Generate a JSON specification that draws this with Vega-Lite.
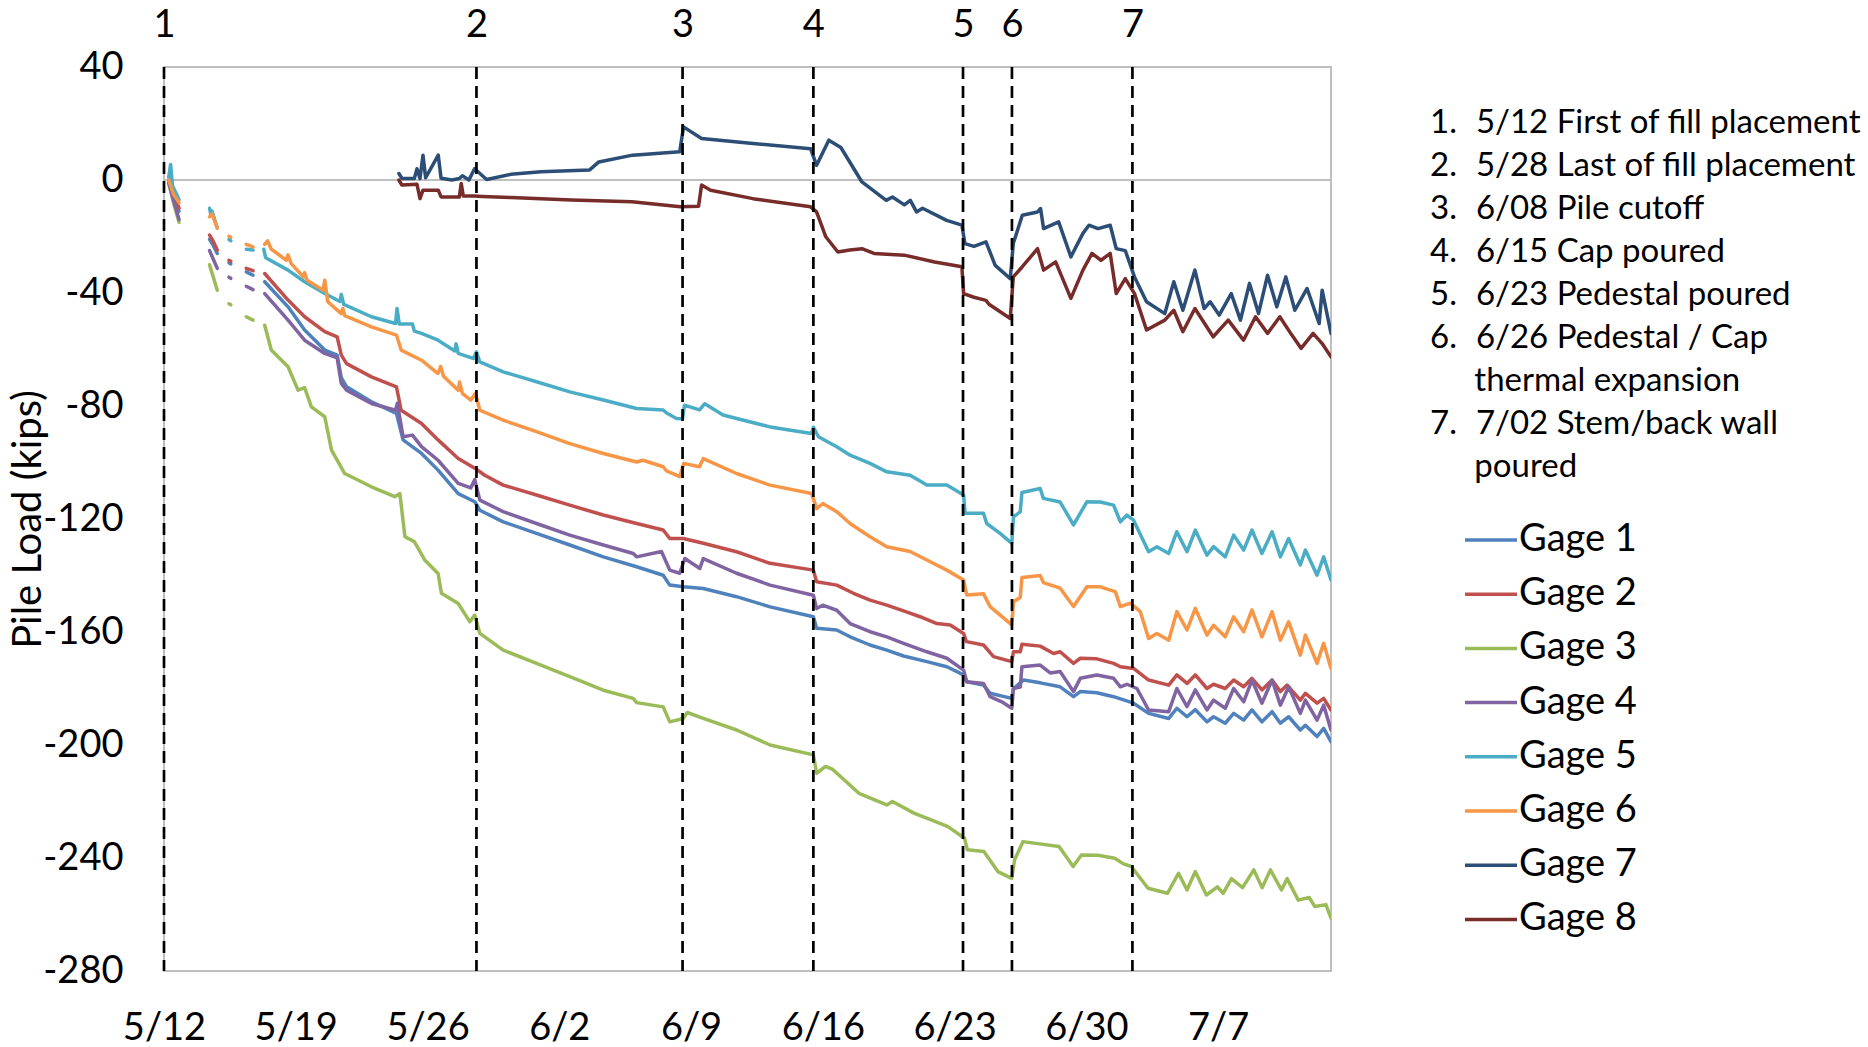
{
"$schema":"https://vega.github.io/schema/vega-lite/v6.json",
"width":1167,"height":904,
"autosize":{"type":"none"},
"padding":{"left":164,"top":67,"right":537,"bottom":76},
"background":"white",
"config":{"view":{"stroke":"#BFBFBF","strokeWidth":2},"font":"Lato"},
"datasets":{
"events":[{"day":0,"event":"1"},{"day":16.6,"event":"2"},{"day":27.55,"event":"3"},{"day":34.5,"event":"4"},{"day":42.45,"event":"5"},{"day":45.05,"event":"6"},{"day":51.45,"event":"7"}],
"gages":[
{"gage":"Gage 1","seg":"a","day":0.25,"load":0},{"gage":"Gage 1","seg":"a","day":0.5,"load":-6},{"gage":"Gage 1","seg":"a","day":0.8,"load":-11},
{"gage":"Gage 1","seg":"b","day":2.42,"load":-21},{"gage":"Gage 1","seg":"b","day":2.6,"load":-23},{"gage":"Gage 1","seg":"b","day":2.83,"load":-26},
{"gage":"Gage 1","seg":"c","day":3.45,"load":-29.3},{"gage":"Gage 1","seg":"c","day":3.55,"load":-29.7},
{"gage":"Gage 1","seg":"d","day":4.37,"load":-32.5},{"gage":"Gage 1","seg":"d","day":4.73,"load":-33.7},
{"gage":"Gage 1","seg":"e","day":5.35,"load":-36},{"gage":"Gage 1","seg":"e","day":6.59,"load":-44.9},{"gage":"Gage 1","seg":"e","day":7.47,"load":-53.1},{"gage":"Gage 1","seg":"e","day":8.54,"load":-60.2},{"gage":"Gage 1","seg":"e","day":9.2,"load":-62},{"gage":"Gage 1","seg":"e","day":9.42,"load":-70},{"gage":"Gage 1","seg":"e","day":9.7,"load":-73.2},{"gage":"Gage 1","seg":"e","day":11.02,"load":-78.5},{"gage":"Gage 1","seg":"e","day":12.35,"load":-82.6},{"gage":"Gage 1","seg":"e","day":12.7,"load":-92},{"gage":"Gage 1","seg":"e","day":13.68,"load":-96.8},{"gage":"Gage 1","seg":"e","day":14.56,"load":-102.7},{"gage":"Gage 1","seg":"e","day":15.63,"load":-111},{"gage":"Gage 1","seg":"e","day":16.51,"load":-113.9},{"gage":"Gage 1","seg":"e","day":16.78,"load":-116.9},{"gage":"Gage 1","seg":"e","day":18.02,"load":-121},{"gage":"Gage 1","seg":"e","day":19.79,"load":-125.1},{"gage":"Gage 1","seg":"e","day":21.56,"load":-129.2},{"gage":"Gage 1","seg":"e","day":23.34,"load":-133.4},{"gage":"Gage 1","seg":"e","day":25.11,"load":-136.9},{"gage":"Gage 1","seg":"e","day":26.52,"load":-139.9},{"gage":"Gage 1","seg":"e","day":26.87,"load":-143.4},{"gage":"Gage 1","seg":"e","day":27.59,"load":-144},{"gage":"Gage 1","seg":"e","day":28.65,"load":-144.6},{"gage":"Gage 1","seg":"e","day":30.42,"load":-147.5},{"gage":"Gage 1","seg":"e","day":32.2,"load":-151.1},{"gage":"Gage 1","seg":"e","day":34.5,"load":-154.6},{"gage":"Gage 1","seg":"e","day":34.67,"load":-158.7},{"gage":"Gage 1","seg":"e","day":35.74,"load":-159.3},{"gage":"Gage 1","seg":"e","day":36.45,"load":-161.7},{"gage":"Gage 1","seg":"e","day":37.51,"load":-164.6},{"gage":"Gage 1","seg":"e","day":38.4,"load":-166.4},{"gage":"Gage 1","seg":"e","day":39.29,"load":-168.5},{"gage":"Gage 1","seg":"e","day":40.53,"load":-170.5},{"gage":"Gage 1","seg":"e","day":41.59,"load":-172.3},{"gage":"Gage 1","seg":"e","day":42.48,"load":-175.2},{"gage":"Gage 1","seg":"e","day":42.65,"load":-177.6},{"gage":"Gage 1","seg":"e","day":43.54,"load":-178.8},{"gage":"Gage 1","seg":"e","day":43.89,"load":-181.7},{"gage":"Gage 1","seg":"e","day":45.04,"load":-183.5},{"gage":"Gage 1","seg":"e","day":45.13,"load":-180},{"gage":"Gage 1","seg":"e","day":45.67,"load":-177},{"gage":"Gage 1","seg":"e","day":46.55,"load":-178},{"gage":"Gage 1","seg":"e","day":47.61,"load":-179.4},{"gage":"Gage 1","seg":"e","day":48.32,"load":-182.9},{"gage":"Gage 1","seg":"e","day":48.68,"load":-181.1},{"gage":"Gage 1","seg":"e","day":49.56,"load":-181.5},{"gage":"Gage 1","seg":"e","day":50.45,"load":-182.9},{"gage":"Gage 1","seg":"e","day":51.51,"load":-185.2},{"gage":"Gage 1","seg":"e","day":52.31,"load":-188.8},{"gage":"Gage 1","seg":"e","day":53.38,"load":-190.6},{"gage":"Gage 1","seg":"e","day":53.81,"load":-187},{"gage":"Gage 1","seg":"e","day":54.35,"load":-190},{"gage":"Gage 1","seg":"e","day":54.79,"load":-187.5},{"gage":"Gage 1","seg":"e","day":55.41,"load":-191.8},{"gage":"Gage 1","seg":"e","day":55.76,"load":-190},{"gage":"Gage 1","seg":"e","day":56.38,"load":-192.3},{"gage":"Gage 1","seg":"e","day":56.83,"load":-188.8},{"gage":"Gage 1","seg":"e","day":57.36,"load":-191.2},{"gage":"Gage 1","seg":"e","day":57.8,"load":-187.6},{"gage":"Gage 1","seg":"e","day":58.33,"load":-191.8},{"gage":"Gage 1","seg":"e","day":58.87,"load":-188.2},{"gage":"Gage 1","seg":"e","day":59.31,"load":-192.3},{"gage":"Gage 1","seg":"e","day":59.75,"load":-190},{"gage":"Gage 1","seg":"e","day":60.37,"load":-194.7},{"gage":"Gage 1","seg":"e","day":60.64,"load":-193},{"gage":"Gage 1","seg":"e","day":61.26,"load":-197},{"gage":"Gage 1","seg":"e","day":61.61,"load":-194.1},{"gage":"Gage 1","seg":"e","day":62,"load":-198.8},

{"gage":"Gage 2","seg":"a","day":0.25,"load":0},{"gage":"Gage 2","seg":"a","day":0.5,"load":-5},{"gage":"Gage 2","seg":"a","day":0.8,"load":-10},
{"gage":"Gage 2","seg":"b","day":2.42,"load":-19.5},{"gage":"Gage 2","seg":"b","day":2.6,"load":-21.5},{"gage":"Gage 2","seg":"b","day":2.83,"load":-24.8},
{"gage":"Gage 2","seg":"c","day":3.45,"load":-28.4},{"gage":"Gage 2","seg":"c","day":3.55,"load":-28.8},
{"gage":"Gage 2","seg":"d","day":4.37,"load":-31.3},{"gage":"Gage 2","seg":"d","day":4.73,"load":-32.1},
{"gage":"Gage 2","seg":"e","day":5.35,"load":-33.1},{"gage":"Gage 2","seg":"e","day":6.59,"load":-42.5},{"gage":"Gage 2","seg":"e","day":7.47,"load":-48.4},{"gage":"Gage 2","seg":"e","day":8.54,"load":-53.7},{"gage":"Gage 2","seg":"e","day":9.2,"load":-55.5},{"gage":"Gage 2","seg":"e","day":9.42,"load":-62},{"gage":"Gage 2","seg":"e","day":9.7,"load":-65},{"gage":"Gage 2","seg":"e","day":11.02,"load":-69.7},{"gage":"Gage 2","seg":"e","day":12.35,"load":-73.2},{"gage":"Gage 2","seg":"e","day":12.6,"load":-81.5},{"gage":"Gage 2","seg":"e","day":13.68,"load":-86.2},{"gage":"Gage 2","seg":"e","day":14.56,"load":-92},{"gage":"Gage 2","seg":"e","day":15.63,"load":-98.6},{"gage":"Gage 2","seg":"e","day":16.51,"load":-102},{"gage":"Gage 2","seg":"e","day":17.04,"load":-104.5},{"gage":"Gage 2","seg":"e","day":18.02,"load":-108},{"gage":"Gage 2","seg":"e","day":19.79,"load":-111.5},{"gage":"Gage 2","seg":"e","day":21.56,"load":-115.1},{"gage":"Gage 2","seg":"e","day":23.34,"load":-118.6},{"gage":"Gage 2","seg":"e","day":25.11,"load":-121.6},{"gage":"Gage 2","seg":"e","day":26.52,"load":-123.9},{"gage":"Gage 2","seg":"e","day":26.87,"load":-126.9},{"gage":"Gage 2","seg":"e","day":27.59,"load":-126.9},{"gage":"Gage 2","seg":"e","day":28.65,"load":-128.6},{"gage":"Gage 2","seg":"e","day":30.42,"load":-131.6},{"gage":"Gage 2","seg":"e","day":32.2,"load":-135.7},{"gage":"Gage 2","seg":"e","day":34.5,"load":-138.1},{"gage":"Gage 2","seg":"e","day":34.67,"load":-142.2},{"gage":"Gage 2","seg":"e","day":35.74,"load":-143.4},{"gage":"Gage 2","seg":"e","day":36.63,"load":-146.3},{"gage":"Gage 2","seg":"e","day":37.51,"load":-148.7},{"gage":"Gage 2","seg":"e","day":38.4,"load":-150.5},{"gage":"Gage 2","seg":"e","day":39.29,"load":-152.5},{"gage":"Gage 2","seg":"e","day":40.17,"load":-154.6},{"gage":"Gage 2","seg":"e","day":41.06,"load":-157},{"gage":"Gage 2","seg":"e","day":41.77,"load":-157.5},{"gage":"Gage 2","seg":"e","day":42.48,"load":-160.5},{"gage":"Gage 2","seg":"e","day":42.63,"load":-163.4},{"gage":"Gage 2","seg":"e","day":43.54,"load":-164.6},{"gage":"Gage 2","seg":"e","day":44.07,"load":-168.7},{"gage":"Gage 2","seg":"e","day":45.04,"load":-170.5},{"gage":"Gage 2","seg":"e","day":45.13,"load":-167},{"gage":"Gage 2","seg":"e","day":45.49,"load":-167},{"gage":"Gage 2","seg":"e","day":45.58,"load":-164.3},{"gage":"Gage 2","seg":"e","day":46.55,"load":-165},{"gage":"Gage 2","seg":"e","day":47.26,"load":-167.6},{"gage":"Gage 2","seg":"e","day":47.61,"load":-167},{"gage":"Gage 2","seg":"e","day":48.32,"load":-171.1},{"gage":"Gage 2","seg":"e","day":48.68,"load":-169.3},{"gage":"Gage 2","seg":"e","day":49.56,"load":-169.5},{"gage":"Gage 2","seg":"e","day":50.45,"load":-171.1},{"gage":"Gage 2","seg":"e","day":50.81,"load":-172.3},{"gage":"Gage 2","seg":"e","day":51.51,"load":-172.9},{"gage":"Gage 2","seg":"e","day":52.31,"load":-177},{"gage":"Gage 2","seg":"e","day":53.38,"load":-178.8},{"gage":"Gage 2","seg":"e","day":53.81,"load":-175.2},{"gage":"Gage 2","seg":"e","day":54.35,"load":-178.2},{"gage":"Gage 2","seg":"e","day":54.79,"load":-175.2},{"gage":"Gage 2","seg":"e","day":55.41,"load":-180},{"gage":"Gage 2","seg":"e","day":55.76,"load":-178.5},{"gage":"Gage 2","seg":"e","day":56.38,"load":-180},{"gage":"Gage 2","seg":"e","day":56.83,"load":-177},{"gage":"Gage 2","seg":"e","day":57.36,"load":-179.4},{"gage":"Gage 2","seg":"e","day":57.8,"load":-176.4},{"gage":"Gage 2","seg":"e","day":58.33,"load":-180.5},{"gage":"Gage 2","seg":"e","day":58.87,"load":-177},{"gage":"Gage 2","seg":"e","day":59.31,"load":-181.1},{"gage":"Gage 2","seg":"e","day":59.67,"load":-178.8},{"gage":"Gage 2","seg":"e","day":60.37,"load":-184.1},{"gage":"Gage 2","seg":"e","day":60.64,"load":-181.7},{"gage":"Gage 2","seg":"e","day":61.26,"load":-185.2},{"gage":"Gage 2","seg":"e","day":61.61,"load":-183.5},{"gage":"Gage 2","seg":"e","day":62,"load":-187.6},

{"gage":"Gage 3","seg":"a","day":0.25,"load":-1},{"gage":"Gage 3","seg":"a","day":0.5,"load":-8},{"gage":"Gage 3","seg":"a","day":0.8,"load":-15},
{"gage":"Gage 3","seg":"b","day":2.42,"load":-30},{"gage":"Gage 3","seg":"b","day":2.6,"load":-34},{"gage":"Gage 3","seg":"b","day":2.83,"load":-39},
{"gage":"Gage 3","seg":"c","day":3.45,"load":-43.8},{"gage":"Gage 3","seg":"c","day":3.55,"load":-44.2},
{"gage":"Gage 3","seg":"d","day":4.37,"load":-48.4},{"gage":"Gage 3","seg":"d","day":4.73,"load":-49.6},
{"gage":"Gage 3","seg":"e","day":5.35,"load":-51.4},{"gage":"Gage 3","seg":"e","day":5.7,"load":-60.2},{"gage":"Gage 3","seg":"e","day":6.59,"load":-66.1},{"gage":"Gage 3","seg":"e","day":7.12,"load":-74.4},{"gage":"Gage 3","seg":"e","day":7.47,"load":-73.5},{"gage":"Gage 3","seg":"e","day":7.83,"load":-80.3},{"gage":"Gage 3","seg":"e","day":8.54,"load":-83.8},{"gage":"Gage 3","seg":"e","day":8.9,"load":-95.6},{"gage":"Gage 3","seg":"e","day":9.6,"load":-103.9},{"gage":"Gage 3","seg":"e","day":11.02,"load":-108.6},{"gage":"Gage 3","seg":"e","day":12.26,"load":-112.1},{"gage":"Gage 3","seg":"e","day":12.53,"load":-111},{"gage":"Gage 3","seg":"e","day":12.8,"load":-126.3},{"gage":"Gage 3","seg":"e","day":13.3,"load":-128},{"gage":"Gage 3","seg":"e","day":13.85,"load":-134.5},{"gage":"Gage 3","seg":"e","day":14.56,"load":-139.3},{"gage":"Gage 3","seg":"e","day":14.74,"load":-146.3},{"gage":"Gage 3","seg":"e","day":15.63,"load":-149.9},{"gage":"Gage 3","seg":"e","day":16.25,"load":-156.4},{"gage":"Gage 3","seg":"e","day":16.51,"load":-154},{"gage":"Gage 3","seg":"e","day":16.78,"load":-160.5},{"gage":"Gage 3","seg":"e","day":18.02,"load":-166.4},{"gage":"Gage 3","seg":"e","day":19.79,"load":-171.1},{"gage":"Gage 3","seg":"e","day":21.56,"load":-175.8},{"gage":"Gage 3","seg":"e","day":23.34,"load":-180.6},{"gage":"Gage 3","seg":"e","day":24.93,"load":-183.5},{"gage":"Gage 3","seg":"e","day":25.11,"load":-185},{"gage":"Gage 3","seg":"e","day":26.52,"load":-186.5},{"gage":"Gage 3","seg":"e","day":26.87,"load":-191.8},{"gage":"Gage 3","seg":"e","day":27.59,"load":-190.6},{"gage":"Gage 3","seg":"e","day":27.8,"load":-188.5},{"gage":"Gage 3","seg":"e","day":28.65,"load":-190.6},{"gage":"Gage 3","seg":"e","day":30.42,"load":-194.7},{"gage":"Gage 3","seg":"e","day":32.2,"load":-200},{"gage":"Gage 3","seg":"e","day":34.5,"load":-203.5},{"gage":"Gage 3","seg":"e","day":34.67,"load":-210},{"gage":"Gage 3","seg":"e","day":35.15,"load":-207.6},{"gage":"Gage 3","seg":"e","day":35.5,"load":-208.5},{"gage":"Gage 3","seg":"e","day":36.92,"load":-217.1},{"gage":"Gage 3","seg":"e","day":38.4,"load":-221.2},{"gage":"Gage 3","seg":"e","day":38.7,"load":-220},{"gage":"Gage 3","seg":"e","day":39.87,"load":-224.2},{"gage":"Gage 3","seg":"e","day":40.76,"load":-226.5},{"gage":"Gage 3","seg":"e","day":41.65,"load":-228.9},{"gage":"Gage 3","seg":"e","day":42.53,"load":-233},{"gage":"Gage 3","seg":"e","day":42.68,"load":-237.1},{"gage":"Gage 3","seg":"e","day":43.56,"load":-237.7},{"gage":"Gage 3","seg":"e","day":44.3,"load":-244.8},{"gage":"Gage 3","seg":"e","day":45.04,"load":-247.2},{"gage":"Gage 3","seg":"e","day":45.19,"load":-240.6},{"gage":"Gage 3","seg":"e","day":45.64,"load":-234.2},{"gage":"Gage 3","seg":"e","day":46.52,"load":-235},{"gage":"Gage 3","seg":"e","day":47.55,"load":-235.9},{"gage":"Gage 3","seg":"e","day":48.3,"load":-243},{"gage":"Gage 3","seg":"e","day":48.74,"load":-238.9},{"gage":"Gage 3","seg":"e","day":49.62,"load":-239},{"gage":"Gage 3","seg":"e","day":50.51,"load":-240.1},{"gage":"Gage 3","seg":"e","day":50.95,"load":-242},{"gage":"Gage 3","seg":"e","day":51.39,"load":-243},{"gage":"Gage 3","seg":"e","day":52.28,"load":-250.7},{"gage":"Gage 3","seg":"e","day":53.31,"load":-252.5},{"gage":"Gage 3","seg":"e","day":53.9,"load":-245.4},{"gage":"Gage 3","seg":"e","day":54.35,"load":-251.3},{"gage":"Gage 3","seg":"e","day":54.79,"load":-244.8},{"gage":"Gage 3","seg":"e","day":55.38,"load":-253.1},{"gage":"Gage 3","seg":"e","day":55.97,"load":-250.2},{"gage":"Gage 3","seg":"e","day":56.27,"load":-252.5},{"gage":"Gage 3","seg":"e","day":56.71,"load":-247.3},{"gage":"Gage 3","seg":"e","day":57.3,"load":-250.5},{"gage":"Gage 3","seg":"e","day":57.9,"load":-244.2},{"gage":"Gage 3","seg":"e","day":58.34,"load":-250.5},{"gage":"Gage 3","seg":"e","day":58.78,"load":-244.2},{"gage":"Gage 3","seg":"e","day":59.37,"load":-251.3},{"gage":"Gage 3","seg":"e","day":59.67,"load":-247.3},{"gage":"Gage 3","seg":"e","day":60.26,"load":-254.9},{"gage":"Gage 3","seg":"e","day":60.85,"load":-254},{"gage":"Gage 3","seg":"e","day":61.14,"load":-257.2},{"gage":"Gage 3","seg":"e","day":61.73,"load":-256.5},{"gage":"Gage 3","seg":"e","day":62,"load":-261.3},

{"gage":"Gage 4","seg":"a","day":0.25,"load":-1},{"gage":"Gage 4","seg":"a","day":0.5,"load":-7},{"gage":"Gage 4","seg":"a","day":0.8,"load":-14},
{"gage":"Gage 4","seg":"b","day":2.42,"load":-25},{"gage":"Gage 4","seg":"b","day":2.55,"load":-27},{"gage":"Gage 4","seg":"b","day":2.83,"load":-31.3},
{"gage":"Gage 4","seg":"c","day":3.45,"load":-34.4},{"gage":"Gage 4","seg":"c","day":3.55,"load":-34.8},
{"gage":"Gage 4","seg":"d","day":4.37,"load":-37.6},{"gage":"Gage 4","seg":"d","day":4.73,"load":-38.8},
{"gage":"Gage 4","seg":"e","day":5.35,"load":-40.2},{"gage":"Gage 4","seg":"e","day":6.59,"load":-49.6},{"gage":"Gage 4","seg":"e","day":7.47,"load":-56.7},{"gage":"Gage 4","seg":"e","day":8.54,"load":-61.4},{"gage":"Gage 4","seg":"e","day":9.2,"load":-63},{"gage":"Gage 4","seg":"e","day":9.42,"load":-72},{"gage":"Gage 4","seg":"e","day":9.7,"load":-74.4},{"gage":"Gage 4","seg":"e","day":11.02,"load":-79.1},{"gage":"Gage 4","seg":"e","day":12.3,"load":-81.5},{"gage":"Gage 4","seg":"e","day":12.4,"load":-79},{"gage":"Gage 4","seg":"e","day":12.7,"load":-90.9},{"gage":"Gage 4","seg":"e","day":13.2,"load":-90.3},{"gage":"Gage 4","seg":"e","day":13.68,"load":-94.4},{"gage":"Gage 4","seg":"e","day":14.56,"load":-99.2},{"gage":"Gage 4","seg":"e","day":15.63,"load":-107.4},{"gage":"Gage 4","seg":"e","day":16.3,"load":-109},{"gage":"Gage 4","seg":"e","day":16.51,"load":-106},{"gage":"Gage 4","seg":"e","day":16.6,"load":-108.6},{"gage":"Gage 4","seg":"e","day":16.78,"load":-113.3},{"gage":"Gage 4","seg":"e","day":18.02,"load":-117.4},{"gage":"Gage 4","seg":"e","day":19.79,"load":-121.6},{"gage":"Gage 4","seg":"e","day":21.56,"load":-125.7},{"gage":"Gage 4","seg":"e","day":23.34,"load":-129.2},{"gage":"Gage 4","seg":"e","day":24.93,"load":-132.2},{"gage":"Gage 4","seg":"e","day":25.11,"load":-133.4},{"gage":"Gage 4","seg":"e","day":26.43,"load":-131.5},{"gage":"Gage 4","seg":"e","day":26.87,"load":-138.1},{"gage":"Gage 4","seg":"e","day":27.4,"load":-139.2},{"gage":"Gage 4","seg":"e","day":27.67,"load":-134},{"gage":"Gage 4","seg":"e","day":28.47,"load":-137.5},{"gage":"Gage 4","seg":"e","day":28.65,"load":-134},{"gage":"Gage 4","seg":"e","day":30.42,"load":-139.2},{"gage":"Gage 4","seg":"e","day":32.2,"load":-143.4},{"gage":"Gage 4","seg":"e","day":34.5,"load":-147},{"gage":"Gage 4","seg":"e","day":34.67,"load":-151.7},{"gage":"Gage 4","seg":"e","day":35,"load":-150.5},{"gage":"Gage 4","seg":"e","day":35.74,"load":-152.3},{"gage":"Gage 4","seg":"e","day":36.45,"load":-157},{"gage":"Gage 4","seg":"e","day":37.51,"load":-159.9},{"gage":"Gage 4","seg":"e","day":38.4,"load":-161.7},{"gage":"Gage 4","seg":"e","day":39.29,"load":-164},{"gage":"Gage 4","seg":"e","day":40.53,"load":-167},{"gage":"Gage 4","seg":"e","day":41.59,"load":-169.3},{"gage":"Gage 4","seg":"e","day":42.48,"load":-173.5},{"gage":"Gage 4","seg":"e","day":42.65,"load":-177.6},{"gage":"Gage 4","seg":"e","day":43.54,"load":-178.2},{"gage":"Gage 4","seg":"e","day":43.89,"load":-182.9},{"gage":"Gage 4","seg":"e","day":44.51,"load":-184.7},{"gage":"Gage 4","seg":"e","day":45.04,"load":-187},{"gage":"Gage 4","seg":"e","day":45.13,"load":-180},{"gage":"Gage 4","seg":"e","day":45.49,"load":-179.5},{"gage":"Gage 4","seg":"e","day":45.58,"load":-172.3},{"gage":"Gage 4","seg":"e","day":46.55,"load":-171.7},{"gage":"Gage 4","seg":"e","day":47.08,"load":-174.5},{"gage":"Gage 4","seg":"e","day":47.61,"load":-174},{"gage":"Gage 4","seg":"e","day":48.32,"load":-181.1},{"gage":"Gage 4","seg":"e","day":48.68,"load":-176.4},{"gage":"Gage 4","seg":"e","day":49.56,"load":-175.2},{"gage":"Gage 4","seg":"e","day":50.45,"load":-176.4},{"gage":"Gage 4","seg":"e","day":50.81,"load":-179.4},{"gage":"Gage 4","seg":"e","day":51.16,"load":-178.5},{"gage":"Gage 4","seg":"e","day":51.69,"load":-180},{"gage":"Gage 4","seg":"e","day":52.31,"load":-187.6},{"gage":"Gage 4","seg":"e","day":53.38,"load":-188.2},{"gage":"Gage 4","seg":"e","day":53.81,"load":-180},{"gage":"Gage 4","seg":"e","day":54.35,"load":-186.4},{"gage":"Gage 4","seg":"e","day":54.79,"load":-180.5},{"gage":"Gage 4","seg":"e","day":55.41,"load":-187.6},{"gage":"Gage 4","seg":"e","day":55.76,"load":-184.1},{"gage":"Gage 4","seg":"e","day":56.38,"load":-187},{"gage":"Gage 4","seg":"e","day":56.83,"load":-180},{"gage":"Gage 4","seg":"e","day":57.36,"load":-184.7},{"gage":"Gage 4","seg":"e","day":57.8,"load":-177},{"gage":"Gage 4","seg":"e","day":58.33,"load":-185.2},{"gage":"Gage 4","seg":"e","day":58.87,"load":-177},{"gage":"Gage 4","seg":"e","day":59.31,"load":-185.9},{"gage":"Gage 4","seg":"e","day":59.75,"load":-179.4},{"gage":"Gage 4","seg":"e","day":60.37,"load":-188.8},{"gage":"Gage 4","seg":"e","day":60.64,"load":-184.1},{"gage":"Gage 4","seg":"e","day":61.26,"load":-191.2},{"gage":"Gage 4","seg":"e","day":61.61,"load":-185.9},{"gage":"Gage 4","seg":"e","day":62,"load":-194.7},

{"gage":"Gage 5","seg":"a","day":0.25,"load":1},{"gage":"Gage 5","seg":"a","day":0.35,"load":5.5},{"gage":"Gage 5","seg":"a","day":0.45,"load":-2},{"gage":"Gage 5","seg":"a","day":0.8,"load":-7},
{"gage":"Gage 5","seg":"b","day":2.42,"load":-10},{"gage":"Gage 5","seg":"b","day":2.5,"load":-12.5},{"gage":"Gage 5","seg":"b","day":2.55,"load":-11},{"gage":"Gage 5","seg":"b","day":2.83,"load":-17},
{"gage":"Gage 5","seg":"c","day":3.45,"load":-21.1},{"gage":"Gage 5","seg":"c","day":3.55,"load":-21.5},
{"gage":"Gage 5","seg":"d","day":4.37,"load":-24.5},{"gage":"Gage 5","seg":"d","day":4.73,"load":-24.8},
{"gage":"Gage 5","seg":"e","day":5.3,"load":-24.5},{"gage":"Gage 5","seg":"e","day":5.4,"load":-27.5},{"gage":"Gage 5","seg":"e","day":6.59,"load":-31.9},{"gage":"Gage 5","seg":"e","day":7.47,"load":-36},{"gage":"Gage 5","seg":"e","day":8.54,"load":-40.2},{"gage":"Gage 5","seg":"e","day":9.35,"load":-43},{"gage":"Gage 5","seg":"e","day":9.42,"load":-40.5},{"gage":"Gage 5","seg":"e","day":9.55,"load":-44},{"gage":"Gage 5","seg":"e","day":11.02,"load":-48.4},{"gage":"Gage 5","seg":"e","day":12.3,"load":-50.8},{"gage":"Gage 5","seg":"e","day":12.38,"load":-45.5},{"gage":"Gage 5","seg":"e","day":12.5,"load":-51},{"gage":"Gage 5","seg":"e","day":13.2,"load":-51},{"gage":"Gage 5","seg":"e","day":13.3,"load":-53.5},{"gage":"Gage 5","seg":"e","day":13.68,"load":-54.3},{"gage":"Gage 5","seg":"e","day":14.56,"load":-56.7},{"gage":"Gage 5","seg":"e","day":15.45,"load":-60.5},{"gage":"Gage 5","seg":"e","day":15.52,"load":-58},{"gage":"Gage 5","seg":"e","day":15.63,"load":-61.4},{"gage":"Gage 5","seg":"e","day":16.45,"load":-63.2},{"gage":"Gage 5","seg":"e","day":16.6,"load":-60.8},{"gage":"Gage 5","seg":"e","day":16.78,"load":-64.4},{"gage":"Gage 5","seg":"e","day":18.02,"load":-67.9},{"gage":"Gage 5","seg":"e","day":19.79,"load":-71.4},{"gage":"Gage 5","seg":"e","day":21.56,"load":-75},{"gage":"Gage 5","seg":"e","day":23.34,"load":-77.9},{"gage":"Gage 5","seg":"e","day":25.11,"load":-80.9},{"gage":"Gage 5","seg":"e","day":26.52,"load":-81.4},{"gage":"Gage 5","seg":"e","day":26.7,"load":-82.5},{"gage":"Gage 5","seg":"e","day":27.23,"load":-84.4},{"gage":"Gage 5","seg":"e","day":27.55,"load":-84.5},{"gage":"Gage 5","seg":"e","day":27.65,"load":-79.7},{"gage":"Gage 5","seg":"e","day":28.45,"load":-81.4},{"gage":"Gage 5","seg":"e","day":28.73,"load":-79.2},{"gage":"Gage 5","seg":"e","day":29.7,"load":-83.2},{"gage":"Gage 5","seg":"e","day":30.42,"load":-84.4},{"gage":"Gage 5","seg":"e","day":32.2,"load":-87.4},{"gage":"Gage 5","seg":"e","day":34.4,"load":-89.7},{"gage":"Gage 5","seg":"e","day":34.5,"load":-87.5},{"gage":"Gage 5","seg":"e","day":34.77,"load":-90.9},{"gage":"Gage 5","seg":"e","day":35.74,"load":-94.4},{"gage":"Gage 5","seg":"e","day":36.45,"load":-97.4},{"gage":"Gage 5","seg":"e","day":37.51,"load":-100.3},{"gage":"Gage 5","seg":"e","day":38.4,"load":-103.3},{"gage":"Gage 5","seg":"e","day":39.64,"load":-104.5},{"gage":"Gage 5","seg":"e","day":40.53,"load":-108},{"gage":"Gage 5","seg":"e","day":41.59,"load":-108},{"gage":"Gage 5","seg":"e","day":42.48,"load":-111.5},{"gage":"Gage 5","seg":"e","day":42.56,"load":-118},{"gage":"Gage 5","seg":"e","day":43.54,"load":-118},{"gage":"Gage 5","seg":"e","day":43.71,"load":-121.6},{"gage":"Gage 5","seg":"e","day":44.42,"load":-125.1},{"gage":"Gage 5","seg":"e","day":45.04,"load":-128.6},{"gage":"Gage 5","seg":"e","day":45.13,"load":-119.2},{"gage":"Gage 5","seg":"e","day":45.49,"load":-117.5},{"gage":"Gage 5","seg":"e","day":45.58,"load":-110.6},{"gage":"Gage 5","seg":"e","day":46.55,"load":-109.2},{"gage":"Gage 5","seg":"e","day":46.72,"load":-112.7},{"gage":"Gage 5","seg":"e","day":47.61,"load":-114},{"gage":"Gage 5","seg":"e","day":48.32,"load":-122.1},{"gage":"Gage 5","seg":"e","day":49.03,"load":-113.9},{"gage":"Gage 5","seg":"e","day":49.74,"load":-114},{"gage":"Gage 5","seg":"e","day":50.45,"load":-115.1},{"gage":"Gage 5","seg":"e","day":50.81,"load":-121},{"gage":"Gage 5","seg":"e","day":51.16,"load":-118.6},{"gage":"Gage 5","seg":"e","day":51.51,"load":-120.4},{"gage":"Gage 5","seg":"e","day":52.31,"load":-131.6},{"gage":"Gage 5","seg":"e","day":52.75,"load":-129.8},{"gage":"Gage 5","seg":"e","day":53.38,"load":-132.2},{"gage":"Gage 5","seg":"e","day":53.81,"load":-124.5},{"gage":"Gage 5","seg":"e","day":54.35,"load":-131.6},{"gage":"Gage 5","seg":"e","day":54.79,"load":-123.9},{"gage":"Gage 5","seg":"e","day":55.41,"load":-132.8},{"gage":"Gage 5","seg":"e","day":55.76,"load":-129.8},{"gage":"Gage 5","seg":"e","day":56.38,"load":-133.4},{"gage":"Gage 5","seg":"e","day":56.83,"load":-125.7},{"gage":"Gage 5","seg":"e","day":57.36,"load":-131},{"gage":"Gage 5","seg":"e","day":57.8,"load":-123.9},{"gage":"Gage 5","seg":"e","day":58.33,"load":-132.2},{"gage":"Gage 5","seg":"e","day":58.87,"load":-124.5},{"gage":"Gage 5","seg":"e","day":59.31,"load":-133.4},{"gage":"Gage 5","seg":"e","day":59.75,"load":-126.9},{"gage":"Gage 5","seg":"e","day":60.37,"load":-136.3},{"gage":"Gage 5","seg":"e","day":60.64,"load":-131},{"gage":"Gage 5","seg":"e","day":61.26,"load":-139.9},{"gage":"Gage 5","seg":"e","day":61.61,"load":-133.4},{"gage":"Gage 5","seg":"e","day":62,"load":-141.6},

{"gage":"Gage 6","seg":"a","day":0.25,"load":0},{"gage":"Gage 6","seg":"a","day":0.5,"load":-5},{"gage":"Gage 6","seg":"a","day":0.8,"load":-8},
{"gage":"Gage 6","seg":"b","day":2.42,"load":-13},{"gage":"Gage 6","seg":"b","day":2.55,"load":-12},{"gage":"Gage 6","seg":"b","day":2.83,"load":-17},
{"gage":"Gage 6","seg":"c","day":3.45,"load":-19.9},{"gage":"Gage 6","seg":"c","day":3.55,"load":-20.3},
{"gage":"Gage 6","seg":"d","day":4.37,"load":-22.8},{"gage":"Gage 6","seg":"d","day":4.73,"load":-23.7},
{"gage":"Gage 6","seg":"e","day":5.35,"load":-22.8},{"gage":"Gage 6","seg":"e","day":5.5,"load":-21.5},{"gage":"Gage 6","seg":"e","day":5.7,"load":-24.5},{"gage":"Gage 6","seg":"e","day":6.5,"load":-28.4},{"gage":"Gage 6","seg":"e","day":6.59,"load":-26.5},{"gage":"Gage 6","seg":"e","day":6.75,"load":-29.5},{"gage":"Gage 6","seg":"e","day":7.4,"load":-34.3},{"gage":"Gage 6","seg":"e","day":7.47,"load":-32.8},{"gage":"Gage 6","seg":"e","day":7.6,"load":-35.5},{"gage":"Gage 6","seg":"e","day":8.45,"load":-39},{"gage":"Gage 6","seg":"e","day":8.54,"load":-35.5},{"gage":"Gage 6","seg":"e","day":8.7,"load":-43.1},{"gage":"Gage 6","seg":"e","day":9.42,"load":-47.3},{"gage":"Gage 6","seg":"e","day":9.5,"load":-45.5},{"gage":"Gage 6","seg":"e","day":9.6,"load":-48},{"gage":"Gage 6","seg":"e","day":11.02,"load":-52},{"gage":"Gage 6","seg":"e","day":12.35,"load":-54.9},{"gage":"Gage 6","seg":"e","day":12.6,"load":-60.2},{"gage":"Gage 6","seg":"e","day":13.68,"load":-63.8},{"gage":"Gage 6","seg":"e","day":14.56,"load":-68.5},{"gage":"Gage 6","seg":"e","day":14.7,"load":-66},{"gage":"Gage 6","seg":"e","day":14.85,"load":-69.5},{"gage":"Gage 6","seg":"e","day":15.63,"load":-74.4},{"gage":"Gage 6","seg":"e","day":15.7,"load":-71.5},{"gage":"Gage 6","seg":"e","day":15.85,"load":-75.5},{"gage":"Gage 6","seg":"e","day":16.3,"load":-77.9},{"gage":"Gage 6","seg":"e","day":16.55,"load":-75.5},{"gage":"Gage 6","seg":"e","day":16.78,"load":-81.5},{"gage":"Gage 6","seg":"e","day":18.02,"load":-85},{"gage":"Gage 6","seg":"e","day":19.79,"load":-89.1},{"gage":"Gage 6","seg":"e","day":21.56,"load":-93.3},{"gage":"Gage 6","seg":"e","day":23.34,"load":-96.8},{"gage":"Gage 6","seg":"e","day":25.11,"load":-99.8},{"gage":"Gage 6","seg":"e","day":25.45,"load":-99.2},{"gage":"Gage 6","seg":"e","day":26.52,"load":-101.5},{"gage":"Gage 6","seg":"e","day":26.7,"load":-103},{"gage":"Gage 6","seg":"e","day":27.4,"load":-105},{"gage":"Gage 6","seg":"e","day":27.62,"load":-100.3},{"gage":"Gage 6","seg":"e","day":28.45,"load":-101.5},{"gage":"Gage 6","seg":"e","day":28.65,"load":-98.6},{"gage":"Gage 6","seg":"e","day":30.42,"load":-103.9},{"gage":"Gage 6","seg":"e","day":32.2,"load":-108},{"gage":"Gage 6","seg":"e","day":34.4,"load":-111},{"gage":"Gage 6","seg":"e","day":34.68,"load":-116.3},{"gage":"Gage 6","seg":"e","day":35,"load":-114.5},{"gage":"Gage 6","seg":"e","day":35.74,"load":-117.4},{"gage":"Gage 6","seg":"e","day":36.45,"load":-121.6},{"gage":"Gage 6","seg":"e","day":37.51,"load":-126.3},{"gage":"Gage 6","seg":"e","day":38.4,"load":-129.8},{"gage":"Gage 6","seg":"e","day":39.64,"load":-131.5},{"gage":"Gage 6","seg":"e","day":40.53,"load":-134.5},{"gage":"Gage 6","seg":"e","day":41.59,"load":-138.1},{"gage":"Gage 6","seg":"e","day":42.48,"load":-141.6},{"gage":"Gage 6","seg":"e","day":42.65,"load":-146.9},{"gage":"Gage 6","seg":"e","day":43.54,"load":-146.5},{"gage":"Gage 6","seg":"e","day":43.89,"load":-151},{"gage":"Gage 6","seg":"e","day":45.04,"load":-157.5},{"gage":"Gage 6","seg":"e","day":45.13,"load":-149.3},{"gage":"Gage 6","seg":"e","day":45.49,"load":-147.8},{"gage":"Gage 6","seg":"e","day":45.58,"load":-140.7},{"gage":"Gage 6","seg":"e","day":46.55,"load":-140},{"gage":"Gage 6","seg":"e","day":46.72,"load":-142.5},{"gage":"Gage 6","seg":"e","day":47.61,"load":-144.5},{"gage":"Gage 6","seg":"e","day":48.32,"load":-151},{"gage":"Gage 6","seg":"e","day":49.03,"load":-144},{"gage":"Gage 6","seg":"e","day":49.74,"load":-144},{"gage":"Gage 6","seg":"e","day":50.54,"load":-145.7},{"gage":"Gage 6","seg":"e","day":50.81,"load":-151},{"gage":"Gage 6","seg":"e","day":51.34,"load":-149.8},{"gage":"Gage 6","seg":"e","day":51.87,"load":-152.8},{"gage":"Gage 6","seg":"e","day":52.31,"load":-162.3},{"gage":"Gage 6","seg":"e","day":52.75,"load":-160.5},{"gage":"Gage 6","seg":"e","day":53.38,"load":-162.9},{"gage":"Gage 6","seg":"e","day":53.81,"load":-152.8},{"gage":"Gage 6","seg":"e","day":54.35,"load":-159.3},{"gage":"Gage 6","seg":"e","day":54.79,"load":-151.6},{"gage":"Gage 6","seg":"e","day":55.41,"load":-161.1},{"gage":"Gage 6","seg":"e","day":55.76,"load":-157.6},{"gage":"Gage 6","seg":"e","day":56.38,"load":-161.7},{"gage":"Gage 6","seg":"e","day":56.83,"load":-154.6},{"gage":"Gage 6","seg":"e","day":57.36,"load":-159.9},{"gage":"Gage 6","seg":"e","day":57.8,"load":-152.2},{"gage":"Gage 6","seg":"e","day":58.33,"load":-161.7},{"gage":"Gage 6","seg":"e","day":58.87,"load":-152.8},{"gage":"Gage 6","seg":"e","day":59.31,"load":-162.9},{"gage":"Gage 6","seg":"e","day":59.75,"load":-156.4},{"gage":"Gage 6","seg":"e","day":60.37,"load":-168.2},{"gage":"Gage 6","seg":"e","day":60.64,"load":-161.1},{"gage":"Gage 6","seg":"e","day":61.26,"load":-171.1},{"gage":"Gage 6","seg":"e","day":61.61,"load":-164},{"gage":"Gage 6","seg":"e","day":62,"load":-172.9},

{"gage":"Gage 7","seg":"e","day":12.48,"load":2.3},{"gage":"Gage 7","seg":"e","day":12.65,"load":0.5},{"gage":"Gage 7","seg":"e","day":13.3,"load":0.5},{"gage":"Gage 7","seg":"e","day":13.44,"load":4},{"gage":"Gage 7","seg":"e","day":13.6,"load":0.5},{"gage":"Gage 7","seg":"e","day":13.76,"load":8.8},{"gage":"Gage 7","seg":"e","day":13.9,"load":0.8},{"gage":"Gage 7","seg":"e","day":14.57,"load":8.8},{"gage":"Gage 7","seg":"e","day":14.72,"load":0.6},{"gage":"Gage 7","seg":"e","day":15.3,"load":0},{"gage":"Gage 7","seg":"e","day":15.69,"load":0.5},{"gage":"Gage 7","seg":"e","day":15.85,"load":1.5},{"gage":"Gage 7","seg":"e","day":16.2,"load":0},{"gage":"Gage 7","seg":"e","day":16.5,"load":4},{"gage":"Gage 7","seg":"e","day":17.14,"load":0.2},{"gage":"Gage 7","seg":"e","day":18.43,"load":2},{"gage":"Gage 7","seg":"e","day":20.03,"load":2.9},{"gage":"Gage 7","seg":"e","day":22.6,"load":3.5},{"gage":"Gage 7","seg":"e","day":23.1,"load":6.4},{"gage":"Gage 7","seg":"e","day":24.9,"load":8.8},{"gage":"Gage 7","seg":"e","day":27.4,"load":10},{"gage":"Gage 7","seg":"e","day":27.6,"load":18.8},{"gage":"Gage 7","seg":"e","day":28.56,"load":14.7},{"gage":"Gage 7","seg":"e","day":31.29,"load":12.9},{"gage":"Gage 7","seg":"e","day":34.35,"load":11.1},{"gage":"Gage 7","seg":"e","day":34.67,"load":5.2},{"gage":"Gage 7","seg":"e","day":35.32,"load":14.1},{"gage":"Gage 7","seg":"e","day":35.96,"load":11.5},{"gage":"Gage 7","seg":"e","day":37.08,"load":-0.7},{"gage":"Gage 7","seg":"e","day":38.37,"load":-7.2},{"gage":"Gage 7","seg":"e","day":38.7,"load":-6},{"gage":"Gage 7","seg":"e","day":39.33,"load":-8.8},{"gage":"Gage 7","seg":"e","day":39.65,"load":-7.2},{"gage":"Gage 7","seg":"e","day":39.98,"load":-11.3},{"gage":"Gage 7","seg":"e","day":40.3,"load":-10},{"gage":"Gage 7","seg":"e","day":41.58,"load":-14.3},{"gage":"Gage 7","seg":"e","day":42.39,"load":-16},{"gage":"Gage 7","seg":"e","day":42.55,"load":-22.5},{"gage":"Gage 7","seg":"e","day":43.03,"load":-23.5},{"gage":"Gage 7","seg":"e","day":43.67,"load":-21.9},{"gage":"Gage 7","seg":"e","day":44.16,"load":-30.2},{"gage":"Gage 7","seg":"e","day":44.96,"load":-34.9},{"gage":"Gage 7","seg":"e","day":45.12,"load":-22.5},{"gage":"Gage 7","seg":"e","day":45.6,"load":-12.5},{"gage":"Gage 7","seg":"e","day":46.41,"load":-11.3},{"gage":"Gage 7","seg":"e","day":46.57,"load":-10.1},{"gage":"Gage 7","seg":"e","day":46.73,"load":-17.2},{"gage":"Gage 7","seg":"e","day":47.53,"load":-14.8},{"gage":"Gage 7","seg":"e","day":48.18,"load":-27.2},{"gage":"Gage 7","seg":"e","day":48.82,"load":-18.9},{"gage":"Gage 7","seg":"e","day":49.14,"load":-16},{"gage":"Gage 7","seg":"e","day":49.62,"load":-17.2},{"gage":"Gage 7","seg":"e","day":50.27,"load":-16},{"gage":"Gage 7","seg":"e","day":50.59,"load":-24.3},{"gage":"Gage 7","seg":"e","day":51.07,"load":-25},{"gage":"Gage 7","seg":"e","day":51.56,"load":-34.3},{"gage":"Gage 7","seg":"e","day":52.2,"load":-43.1},{"gage":"Gage 7","seg":"e","day":53.17,"load":-47.3},{"gage":"Gage 7","seg":"e","day":53.65,"load":-36},{"gage":"Gage 7","seg":"e","day":54.13,"load":-46.1},{"gage":"Gage 7","seg":"e","day":54.77,"load":-31.9},{"gage":"Gage 7","seg":"e","day":55.26,"load":-45.5},{"gage":"Gage 7","seg":"e","day":55.58,"load":-43.1},{"gage":"Gage 7","seg":"e","day":56.06,"load":-47.8},{"gage":"Gage 7","seg":"e","day":56.7,"load":-40.2},{"gage":"Gage 7","seg":"e","day":57.19,"load":-49.6},{"gage":"Gage 7","seg":"e","day":57.67,"load":-36.6},{"gage":"Gage 7","seg":"e","day":58.15,"load":-47.3},{"gage":"Gage 7","seg":"e","day":58.63,"load":-33.7},{"gage":"Gage 7","seg":"e","day":59.12,"load":-44.9},{"gage":"Gage 7","seg":"e","day":59.6,"load":-34.3},{"gage":"Gage 7","seg":"e","day":60.08,"load":-46.1},{"gage":"Gage 7","seg":"e","day":60.73,"load":-38.4},{"gage":"Gage 7","seg":"e","day":61.37,"load":-50.8},{"gage":"Gage 7","seg":"e","day":61.53,"load":-39},{"gage":"Gage 7","seg":"e","day":62,"load":-54.3},

{"gage":"Gage 8","seg":"e","day":12.48,"load":0},{"gage":"Gage 8","seg":"e","day":12.64,"load":-1.8},{"gage":"Gage 8","seg":"e","day":13.44,"load":-1.5},{"gage":"Gage 8","seg":"e","day":13.6,"load":-6.6},{"gage":"Gage 8","seg":"e","day":13.76,"load":-3.6},{"gage":"Gage 8","seg":"e","day":14.57,"load":-3.6},{"gage":"Gage 8","seg":"e","day":14.72,"load":-6},{"gage":"Gage 8","seg":"e","day":15.69,"load":-6},{"gage":"Gage 8","seg":"e","day":15.79,"load":-1.2},{"gage":"Gage 8","seg":"e","day":15.9,"load":-5.7},{"gage":"Gage 8","seg":"e","day":16.5,"load":-5.7},{"gage":"Gage 8","seg":"e","day":16.9,"load":-5.8},{"gage":"Gage 8","seg":"e","day":18.43,"load":-6.2},{"gage":"Gage 8","seg":"e","day":21.64,"load":-7.1},{"gage":"Gage 8","seg":"e","day":24.86,"load":-7.7},{"gage":"Gage 8","seg":"e","day":27.43,"load":-9.5},{"gage":"Gage 8","seg":"e","day":28.4,"load":-9.3},{"gage":"Gage 8","seg":"e","day":28.56,"load":-1.8},{"gage":"Gage 8","seg":"e","day":29.04,"load":-3.6},{"gage":"Gage 8","seg":"e","day":31.29,"load":-6.6},{"gage":"Gage 8","seg":"e","day":34.35,"load":-9.5},{"gage":"Gage 8","seg":"e","day":34.67,"load":-11.3},{"gage":"Gage 8","seg":"e","day":35.16,"load":-20.1},{"gage":"Gage 8","seg":"e","day":35.8,"load":-25.5},{"gage":"Gage 8","seg":"e","day":36.44,"load":-24.8},{"gage":"Gage 8","seg":"e","day":37.08,"load":-24.3},{"gage":"Gage 8","seg":"e","day":37.72,"load":-26},{"gage":"Gage 8","seg":"e","day":39.33,"load":-26.6},{"gage":"Gage 8","seg":"e","day":40.94,"load":-29},{"gage":"Gage 8","seg":"e","day":42.39,"load":-30.7},{"gage":"Gage 8","seg":"e","day":42.48,"load":-40.2},{"gage":"Gage 8","seg":"e","day":43.03,"load":-41.5},{"gage":"Gage 8","seg":"e","day":43.67,"load":-42.6},{"gage":"Gage 8","seg":"e","day":43.83,"load":-44},{"gage":"Gage 8","seg":"e","day":44.96,"load":-49},{"gage":"Gage 8","seg":"e","day":45.12,"load":-34.3},{"gage":"Gage 8","seg":"e","day":45.6,"load":-30.7},{"gage":"Gage 8","seg":"e","day":46.41,"load":-24.3},{"gage":"Gage 8","seg":"e","day":46.73,"load":-31.9},{"gage":"Gage 8","seg":"e","day":47.37,"load":-29},{"gage":"Gage 8","seg":"e","day":48.18,"load":-41.9},{"gage":"Gage 8","seg":"e","day":48.82,"load":-31.9},{"gage":"Gage 8","seg":"e","day":49.3,"load":-26},{"gage":"Gage 8","seg":"e","day":49.78,"load":-28.4},{"gage":"Gage 8","seg":"e","day":50.27,"load":-26},{"gage":"Gage 8","seg":"e","day":50.59,"load":-40.2},{"gage":"Gage 8","seg":"e","day":51.07,"load":-34.9},{"gage":"Gage 8","seg":"e","day":51.56,"load":-40.2},{"gage":"Gage 8","seg":"e","day":52.2,"load":-53.1},{"gage":"Gage 8","seg":"e","day":53.17,"load":-49.6},{"gage":"Gage 8","seg":"e","day":53.65,"load":-46.1},{"gage":"Gage 8","seg":"e","day":54.13,"load":-53.7},{"gage":"Gage 8","seg":"e","day":54.77,"load":-45.5},{"gage":"Gage 8","seg":"e","day":55.74,"load":-55.5},{"gage":"Gage 8","seg":"e","day":56.54,"load":-49.6},{"gage":"Gage 8","seg":"e","day":57.35,"load":-56.7},{"gage":"Gage 8","seg":"e","day":57.99,"load":-48.4},{"gage":"Gage 8","seg":"e","day":58.63,"load":-54.3},{"gage":"Gage 8","seg":"e","day":59.28,"load":-48.4},{"gage":"Gage 8","seg":"e","day":59.92,"load":-54.9},{"gage":"Gage 8","seg":"e","day":60.41,"load":-59.6},{"gage":"Gage 8","seg":"e","day":61.05,"load":-54.3},{"gage":"Gage 8","seg":"e","day":61.53,"load":-57.9},{"gage":"Gage 8","seg":"e","day":62,"load":-62.6}
]},
"layer":[
{"data":{"values":[{"load":0}]},
 "mark":{"type":"rule","color":"#BFBFBF","strokeWidth":2},
 "encoding":{"y":{"field":"load","type":"quantitative","scale":{"domain":[-280,40],"nice":false},
  "axis":{"values":[-280,-240,-200,-160,-120,-80,-40,0,40],"labelExpr":"datum.value + ''","title":"Pile Load (kips)","titleFontSize":40,"titleFontWeight":"normal","titleColor":"black","titleFont":"Lato","titlePadding":-6,"grid":false,"domain":false,"ticks":false,"labelFontSize":38,"labelColor":"black","labelPadding":41,"labelFont":"Lato"}}}},
{"data":{"name":"gages"},
 "mark":{"type":"line","strokeWidth":3.5,"strokeCap":"round","strokeJoin":"round","clip":true},
 "encoding":{
  "x":{"field":"day","type":"quantitative","scale":{"domain":[0,62],"nice":false,"zero":false},
   "axis":{"orient":"bottom","values":[0,7,14,21,28,35,42,49,56],"labelExpr":"['5/12','5/19','5/26','6/2','6/9','6/16','6/23','6/30','7/7'][round(datum.value/7)]","title":null,"grid":false,"domain":false,"ticks":false,"labelFontSize":38,"labelColor":"black","labelPadding":38,"labelFont":"Lato","labelFlush":false,"labelOverlap":false}},
  "y":{"field":"load","type":"quantitative","scale":{"domain":[-280,40],"nice":false},
   "axis":{"values":[-280,-240,-200,-160,-120,-80,-40,0,40],"labelExpr":"datum.value + ''","title":"Pile Load (kips)","titleFontSize":40,"titleFontWeight":"normal","titleColor":"black","titleFont":"Lato","titlePadding":-6,"grid":false,"domain":false,"ticks":false,"labelFontSize":38,"labelColor":"black","labelPadding":41,"labelFont":"Lato"}},
  "color":{"field":"gage","type":"nominal",
   "scale":{"domain":["Gage 1","Gage 2","Gage 3","Gage 4","Gage 5","Gage 6","Gage 7","Gage 8"],"range":["#4F81BD","#C0504D","#9BBB59","#8064A2","#4BACC6","#F79646","#2C4D75","#772C2A"]},
   "legend":{"orient":"none","legendX":1266,"legendY":40,"padding":0,
    "title":["1.\u00a0\u00a0\u200a5/12 First of fill placement","2.\u00a0\u00a0\u200a5/28 Last of fill placement","3.\u00a0\u00a0\u200a6/08 Pile cutoff","4.\u00a0\u00a0\u200a6/15 Cap poured","5.\u00a0\u00a0\u200a6/23 Pedestal poured","6.\u00a0\u00a0\u200a6/26 Pedestal / Cap","\u200c\u00a0\u00a0\u00a0\u00a0\u00a0\u200athermal expansion","7.\u00a0\u00a0\u200a7/02 Stem/back wall","\u200c\u00a0\u00a0\u00a0\u00a0\u00a0\u200apoured"],
    "titleFont":"Lato","titleFontSize":33,"titleFontWeight":"normal","titleColor":"black","titleLineHeight":43,"titleLimit":2000,"titlePadding":28,"titleAnchor":"start","titleAlign":"left","titleBaseline":"top",
    "symbolType":"stroke","symbolSize":2704,"symbolStrokeWidth":3.5,"symbolOffset":33,
    "labelFont":"Lato","labelFontSize":38,"labelColor":"black","labelOffset":0,"labelLimit":1000,"rowPadding":7.2}},
  "detail":{"field":"seg","type":"nominal"}}},
{"data":{"name":"events"},
 "mark":{"type":"rule","color":"black","strokeWidth":2.7,"strokeDash":[12,7]},
 "encoding":{"x":{"field":"day","type":"quantitative",
   "axis":{"orient":"top","values":[0,16.6,27.55,34.5,42.45,45.05,51.45],"labelExpr":"['1','2','3','4','5','6','7'][indexof([0,16.6,27.55,34.5,42.45,45.05,51.45], datum.value)]","title":null,"grid":false,"domain":false,"ticks":false,"labelFontSize":38,"labelColor":"black","labelPadding":23,"labelFont":"Lato","labelOverlap":false,"labelFlush":false}}}}
],
"resolve":{"axis":{"x":"independent"}}
}
